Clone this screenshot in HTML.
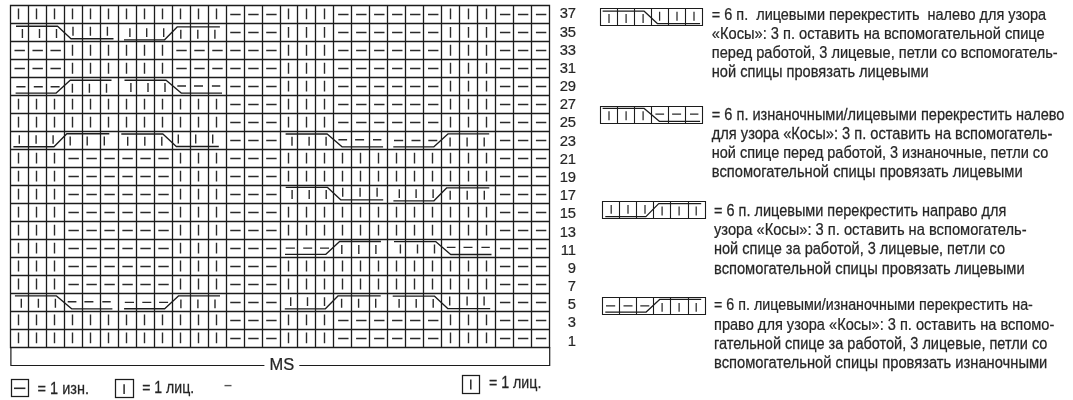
<!DOCTYPE html>
<html lang="ru"><head><meta charset="utf-8"><title>Схема узора «Косы»</title>
<style>
html,body{margin:0;padding:0;background:#fff}
body{width:1073px;height:400px;position:relative;overflow:hidden;font-family:"Liberation Sans",sans-serif}
</style></head><body>
<svg width="1073" height="400" viewBox="0 0 1073 400" style="position:absolute;left:0;top:0;will-change:transform;font-family:'Liberation Sans',sans-serif">
<path d="M10.5 5.5V347.5M28.5 5.5V347.5M46.5 5.5V347.5M64.5 5.5V347.5M82.5 5.5V347.5M100.5 5.5V347.5M118.5 5.5V347.5M136.5 5.5V347.5M154.5 5.5V347.5M172.5 5.5V347.5M190.5 5.5V347.5M208.5 5.5V347.5M226.5 5.5V347.5M244.5 5.5V347.5M262.5 5.5V347.5M280.5 5.5V347.5M297.5 5.5V347.5M315.5 5.5V347.5M333.5 5.5V347.5M351.5 5.5V347.5M369.5 5.5V347.5M387.5 5.5V347.5M405.5 5.5V347.5M423.5 5.5V347.5M441.5 5.5V347.5M459.5 5.5V347.5M477.5 5.5V347.5M495.5 5.5V347.5M513.5 5.5V347.5M531.5 5.5V347.5M549.5 5.5V347.5M10.5 5.5H549.5M10.5 23.5H549.5M10.5 41.5H549.5M10.5 59.5H549.5M10.5 77.5H549.5M10.5 95.5H549.5M10.5 113.5H549.5M10.5 131.5H549.5M10.5 149.5H549.5M10.5 167.5H549.5M10.5 185.5H549.5M10.5 203.5H549.5M10.5 221.5H549.5M10.5 239.5H549.5M10.5 257.5H549.5M10.5 275.5H549.5M10.5 293.5H549.5M10.5 311.5H549.5M10.5 329.5H549.5M10.5 347.5H549.5" fill="none" stroke="#1c1c1c" stroke-width="1.3" stroke-linecap="square"/>
<path d="M18.5 8.4V19.2M36.5 8.4V19.2M54.5 8.4V19.2M72.5 8.4V19.2M90.5 8.4V19.2M108.5 8.4V19.2M126.5 8.4V19.2M144.5 8.4V19.2M162.5 8.4V19.2M180.5 8.4V19.2M198.5 8.4V19.2M216.5 8.4V19.2M230.25 14.5H240.65M248.23 14.5H258.63M266.21 14.5H276.61M288.5 8.4V19.2M306.5 8.4V19.2M324.5 8.4V19.2M338.13 14.5H348.53M356.11 14.5H366.51M374.09 14.5H384.49M392.07 14.5H402.47M410.05 14.5H420.45M428.03 14.5H438.43M450.5 8.4V19.2M468.5 8.4V19.2M486.5 8.4V19.2M499.95 14.5H510.35M517.93 14.5H528.33M535.91 14.5H546.31M22.4 29V37.9M39.5 29V37.9M56.5 29V37.9M73 26.7V35.7M90.4 26.7V35.7M107.4 26.7V35.7M129.9 28.3V36.9M146.7 28.3V36.9M163.7 28.3V36.9M180.8 29.7V38.7M197.8 29.7V38.7M214.9 29.7V38.7M230.25 32.5H240.65M248.23 32.5H258.63M266.21 32.5H276.61M288.5 26.88V37.68M306.5 26.88V37.68M324.5 26.88V37.68M338.13 32.5H348.53M356.11 32.5H366.51M374.09 32.5H384.49M392.07 32.5H402.47M410.05 32.5H420.45M428.03 32.5H438.43M450.5 26.88V37.68M468.5 26.88V37.68M486.5 26.88V37.68M499.95 32.5H510.35M517.93 32.5H528.33M535.91 32.5H546.31M14.49 50.5H24.89M32.47 50.5H42.87M50.45 50.5H60.85M72.5 44.86V55.66M90.5 44.86V55.66M108.5 44.86V55.66M126.5 44.86V55.66M144.5 44.86V55.66M162.5 44.86V55.66M176.31 50.5H186.71M194.29 50.5H204.69M212.27 50.5H222.67M230.25 50.5H240.65M248.23 50.5H258.63M266.21 50.5H276.61M288.5 44.86V55.66M306.5 44.86V55.66M324.5 44.86V55.66M338.13 50.5H348.53M356.11 50.5H366.51M374.09 50.5H384.49M392.07 50.5H402.47M410.05 50.5H420.45M428.03 50.5H438.43M450.5 44.86V55.66M468.5 44.86V55.66M486.5 44.86V55.66M499.95 50.5H510.35M517.93 50.5H528.33M535.91 50.5H546.31M14.49 68.5H24.89M32.47 68.5H42.87M50.45 68.5H60.85M72.5 62.84V73.64M90.5 62.84V73.64M108.5 62.84V73.64M126.5 62.84V73.64M144.5 62.84V73.64M162.5 62.84V73.64M176.31 68.5H186.71M194.29 68.5H204.69M212.27 68.5H222.67M230.25 68.5H240.65M248.23 68.5H258.63M266.21 68.5H276.61M288.5 62.84V73.64M306.5 62.84V73.64M324.5 62.84V73.64M338.13 68.5H348.53M356.11 68.5H366.51M374.09 68.5H384.49M392.07 68.5H402.47M410.05 68.5H420.45M428.03 68.5H438.43M450.5 62.84V73.64M468.5 62.84V73.64M486.5 62.84V73.64M499.95 68.5H510.35M517.93 68.5H528.33M535.91 68.5H546.31M16.3 86.8H25.5M33.8 86.8H42.8M50.6 86.8H59.6M72.4 83.8V92.7M89.4 83.8V92.7M106.5 83.8V92.7M130.9 83V92M148 83V92M165 83V92M177.3 86H186M194 86H203M211.9 86H220.3M230.25 86.5H240.65M248.23 86.5H258.63M266.21 86.5H276.61M288.5 80.82V91.62M306.5 80.82V91.62M324.5 80.82V91.62M338.13 86.5H348.53M356.11 86.5H366.51M374.09 86.5H384.49M392.07 86.5H402.47M410.05 86.5H420.45M428.03 86.5H438.43M450.5 80.82V91.62M468.5 80.82V91.62M486.5 80.82V91.62M499.95 86.5H510.35M517.93 86.5H528.33M535.91 86.5H546.31M18.5 98.8V109.6M36.5 98.8V109.6M54.5 98.8V109.6M72.5 98.8V109.6M90.5 98.8V109.6M108.5 98.8V109.6M126.5 98.8V109.6M144.5 98.8V109.6M162.5 98.8V109.6M180.5 98.8V109.6M198.5 98.8V109.6M216.5 98.8V109.6M230.25 104.5H240.65M248.23 104.5H258.63M266.21 104.5H276.61M288.5 98.8V109.6M306.5 98.8V109.6M324.5 98.8V109.6M338.13 104.5H348.53M356.11 104.5H366.51M374.09 104.5H384.49M392.07 104.5H402.47M410.05 104.5H420.45M428.03 104.5H438.43M450.5 98.8V109.6M468.5 98.8V109.6M486.5 98.8V109.6M499.95 104.5H510.35M517.93 104.5H528.33M535.91 104.5H546.31M18.5 116.78V127.58M36.5 116.78V127.58M54.5 116.78V127.58M72.5 116.78V127.58M90.5 116.78V127.58M108.5 116.78V127.58M126.5 116.78V127.58M144.5 116.78V127.58M162.5 116.78V127.58M180.5 116.78V127.58M198.5 116.78V127.58M216.5 116.78V127.58M230.25 122.5H240.65M248.23 122.5H258.63M266.21 122.5H276.61M288.5 116.78V127.58M306.5 116.78V127.58M324.5 116.78V127.58M338.13 122.5H348.53M356.11 122.5H366.51M374.09 122.5H384.49M392.07 122.5H402.47M410.05 122.5H420.45M428.03 122.5H438.43M450.5 116.78V127.58M468.5 116.78V127.58M486.5 116.78V127.58M499.95 122.5H510.35M517.93 122.5H528.33M535.91 122.5H546.31M19.3 135.2V143.8M36.1 135.2V143.8M53.1 135.2V143.8M70.2 136.6V145.6M87.2 136.6V145.6M104.3 136.6V145.6M127.7 136.8V145.7M144.8 136.8V145.7M161.8 136.8V145.7M178.3 134.5V143.5M195.7 134.5V143.5M212.7 134.5V143.5M230.25 140.5H240.65M248.23 140.5H258.63M266.21 140.5H276.61M292 136.8V145.8M309.1 136.8V145.8M326.1 136.8V145.8M338.4 139.8H347.1M355.1 139.8H364.1M373 139.8H381.4M394 140.5H403.2M411.5 140.5H420.5M428.3 140.5H437.3M450.1 137.5V146.4M467.1 137.5V146.4M484.2 137.5V146.4M499.95 140.5H510.35M517.93 140.5H528.33M535.91 140.5H546.31M18.5 152.74V163.54M36.5 152.74V163.54M54.5 152.74V163.54M68.43 158.5H78.83M86.41 158.5H96.81M104.39 158.5H114.79M122.37 158.5H132.77M140.35 158.5H150.75M158.33 158.5H168.73M180.5 152.74V163.54M198.5 152.74V163.54M216.5 152.74V163.54M230.25 158.5H240.65M248.23 158.5H258.63M266.21 158.5H276.61M288.5 152.74V163.54M306.5 152.74V163.54M324.5 152.74V163.54M342.5 152.74V163.54M360.5 152.74V163.54M378.5 152.74V163.54M396.5 152.74V163.54M414.5 152.74V163.54M432.5 152.74V163.54M450.5 152.74V163.54M468.5 152.74V163.54M486.5 152.74V163.54M499.95 158.5H510.35M517.93 158.5H528.33M535.91 158.5H546.31M18.5 170.72V181.52M36.5 170.72V181.52M54.5 170.72V181.52M68.43 176.5H78.83M86.41 176.5H96.81M104.39 176.5H114.79M122.37 176.5H132.77M140.35 176.5H150.75M158.33 176.5H168.73M180.5 170.72V181.52M198.5 170.72V181.52M216.5 170.72V181.52M230.25 176.5H240.65M248.23 176.5H258.63M266.21 176.5H276.61M288.5 170.72V181.52M306.5 170.72V181.52M324.5 170.72V181.52M342.5 170.72V181.52M360.5 170.72V181.52M378.5 170.72V181.52M396.5 170.72V181.52M414.5 170.72V181.52M432.5 170.72V181.52M450.5 170.72V181.52M468.5 170.72V181.52M486.5 170.72V181.52M499.95 176.5H510.35M517.93 176.5H528.33M535.91 176.5H546.31M18.5 188.7V199.5M36.5 188.7V199.5M54.5 188.7V199.5M68.43 194.5H78.83M86.41 194.5H96.81M104.39 194.5H114.79M122.37 194.5H132.77M140.35 194.5H150.75M158.33 194.5H168.73M180.5 188.7V199.5M198.5 188.7V199.5M216.5 188.7V199.5M230.25 194.5H240.65M248.23 194.5H258.63M266.21 194.5H276.61M292.1 190.1V199M309.2 190.1V199M326.2 190.1V199M342.7 187.8V196.8M360.1 187.8V196.8M377.1 187.8V196.8M399.3 189.3V197.9M416.1 189.3V197.9M433.1 189.3V197.9M450.2 190.7V199.7M467.2 190.7V199.7M484.3 190.7V199.7M499.95 194.5H510.35M517.93 194.5H528.33M535.91 194.5H546.31M18.5 206.68V217.48M36.5 206.68V217.48M54.5 206.68V217.48M68.43 212.5H78.83M86.41 212.5H96.81M104.39 212.5H114.79M122.37 212.5H132.77M140.35 212.5H150.75M158.33 212.5H168.73M180.5 206.68V217.48M198.5 206.68V217.48M216.5 206.68V217.48M230.25 212.5H240.65M248.23 212.5H258.63M266.21 212.5H276.61M288.5 206.68V217.48M306.5 206.68V217.48M324.5 206.68V217.48M342.5 206.68V217.48M360.5 206.68V217.48M378.5 206.68V217.48M396.5 206.68V217.48M414.5 206.68V217.48M432.5 206.68V217.48M450.5 206.68V217.48M468.5 206.68V217.48M486.5 206.68V217.48M499.95 212.5H510.35M517.93 212.5H528.33M535.91 212.5H546.31M18.5 224.66V235.46M36.5 224.66V235.46M54.5 224.66V235.46M68.43 230.5H78.83M86.41 230.5H96.81M104.39 230.5H114.79M122.37 230.5H132.77M140.35 230.5H150.75M158.33 230.5H168.73M180.5 224.66V235.46M198.5 224.66V235.46M216.5 224.66V235.46M230.25 230.5H240.65M248.23 230.5H258.63M266.21 230.5H276.61M288.5 224.66V235.46M306.5 224.66V235.46M324.5 224.66V235.46M342.5 224.66V235.46M360.5 224.66V235.46M378.5 224.66V235.46M396.5 224.66V235.46M414.5 224.66V235.46M432.5 224.66V235.46M450.5 224.66V235.46M468.5 224.66V235.46M486.5 224.66V235.46M499.95 230.5H510.35M517.93 230.5H528.33M535.91 230.5H546.31M18.5 242.64V253.44M36.5 242.64V253.44M54.5 242.64V253.44M68.43 248.5H78.83M86.41 248.5H96.81M104.39 248.5H114.79M122.37 248.5H132.77M140.35 248.5H150.75M158.33 248.5H168.73M180.5 242.64V253.44M198.5 242.64V253.44M216.5 242.64V253.44M230.25 248.5H240.65M248.23 248.5H258.63M266.21 248.5H276.61M285.7 248.1H294.9M303.2 248.1H312.2M320 248.1H329M341.8 245.1V254M358.8 245.1V254M375.9 245.1V254M400.4 244.4V253.4M417.5 244.4V253.4M434.5 244.4V253.4M446.8 247.4H455.5M463.5 247.4H472.5M481.4 247.4H489.8M499.95 248.5H510.35M517.93 248.5H528.33M535.91 248.5H546.31M18.5 260.62V271.42M36.5 260.62V271.42M54.5 260.62V271.42M68.43 266.5H78.83M86.41 266.5H96.81M104.39 266.5H114.79M122.37 266.5H132.77M140.35 266.5H150.75M158.33 266.5H168.73M180.5 260.62V271.42M198.5 260.62V271.42M216.5 260.62V271.42M230.25 266.5H240.65M248.23 266.5H258.63M266.21 266.5H276.61M288.5 260.62V271.42M306.5 260.62V271.42M324.5 260.62V271.42M342.5 260.62V271.42M360.5 260.62V271.42M378.5 260.62V271.42M396.5 260.62V271.42M414.5 260.62V271.42M432.5 260.62V271.42M450.5 260.62V271.42M468.5 260.62V271.42M486.5 260.62V271.42M499.95 266.5H510.35M517.93 266.5H528.33M535.91 266.5H546.31M18.5 278.6V289.4M36.5 278.6V289.4M54.5 278.6V289.4M68.43 284.5H78.83M86.41 284.5H96.81M104.39 284.5H114.79M122.37 284.5H132.77M140.35 284.5H150.75M158.33 284.5H168.73M180.5 278.6V289.4M198.5 278.6V289.4M216.5 278.6V289.4M230.25 284.5H240.65M248.23 284.5H258.63M266.21 284.5H276.61M288.5 278.6V289.4M306.5 278.6V289.4M324.5 278.6V289.4M342.5 278.6V289.4M360.5 278.6V289.4M378.5 278.6V289.4M396.5 278.6V289.4M414.5 278.6V289.4M432.5 278.6V289.4M450.5 278.6V289.4M468.5 278.6V289.4M486.5 278.6V289.4M499.95 284.5H510.35M517.93 284.5H528.33M535.91 284.5H546.31M21.3 298.7V307.7M38.4 298.7V307.7M55.4 298.7V307.7M67.7 301.7H76.4M84.4 301.7H93.4M102.3 301.7H110.7M124.8 302.4H134M142.3 302.4H151.3M159.1 302.4H168.1M180.9 299.4V308.3M197.9 299.4V308.3M215 299.4V308.3M230.25 302.5H240.65M248.23 302.5H258.63M266.21 302.5H276.61M290.7 297.3V305.9M307.5 297.3V305.9M324.5 297.3V305.9M341.6 298.7V307.7M358.6 298.7V307.7M375.7 298.7V307.7M399.1 298.9V307.8M416.2 298.9V307.8M433.2 298.9V307.8M449.7 296.6V305.6M467.1 296.6V305.6M484.1 296.6V305.6M499.95 302.5H510.35M517.93 302.5H528.33M535.91 302.5H546.31M18.5 314.56V325.36M36.5 314.56V325.36M54.5 314.56V325.36M72.5 314.56V325.36M90.5 314.56V325.36M108.5 314.56V325.36M126.5 314.56V325.36M144.5 314.56V325.36M162.5 314.56V325.36M180.5 314.56V325.36M198.5 314.56V325.36M216.5 314.56V325.36M230.25 320.5H240.65M248.23 320.5H258.63M266.21 320.5H276.61M288.5 314.56V325.36M306.5 314.56V325.36M324.5 314.56V325.36M338.13 320.5H348.53M356.11 320.5H366.51M374.09 320.5H384.49M392.07 320.5H402.47M410.05 320.5H420.45M428.03 320.5H438.43M450.5 314.56V325.36M468.5 314.56V325.36M486.5 314.56V325.36M499.95 320.5H510.35M517.93 320.5H528.33M535.91 320.5H546.31M18.5 332.54V343.34M36.5 332.54V343.34M54.5 332.54V343.34M72.5 332.54V343.34M90.5 332.54V343.34M108.5 332.54V343.34M126.5 332.54V343.34M144.5 332.54V343.34M162.5 332.54V343.34M180.5 332.54V343.34M198.5 332.54V343.34M216.5 332.54V343.34M230.25 338.5H240.65M248.23 338.5H258.63M266.21 338.5H276.61M288.5 332.54V343.34M306.5 332.54V343.34M324.5 332.54V343.34M338.13 338.5H348.53M356.11 338.5H366.51M374.09 338.5H384.49M392.07 338.5H402.47M410.05 338.5H420.45M428.03 338.5H438.43M450.5 332.54V343.34M468.5 332.54V343.34M486.5 332.54V343.34M499.95 338.5H510.35M517.93 338.5H528.33M535.91 338.5H546.31" fill="none" stroke="#2a2a2a" stroke-width="1.4"/>
<path d="M16 26.2 L57.6 26.2 L71 38.7 L113.5 38.7M124 39.8 L164.6 39.8 L177.4 26.8 L219.9 26.8M15.6 93.1 L56.2 93.1 L70.2 80.2 L111.5 80.2M124.5 80.2 L166.1 80.2 L181.2 93.1 L222 93.1M13.4 146.7 L54 146.7 L66.8 133.7 L109.3 133.7M121.3 134 L162.9 134 L176.3 146.5 L218.8 146.5M285.6 134 L327.2 134 L342.3 146.9 L383.1 146.9M393.3 146.8 L433.9 146.8 L447.9 133.9 L489.2 133.9M285.7 187.3 L327.3 187.3 L340.7 199.8 L383.2 199.8M393.4 200.8 L434 200.8 L446.8 187.8 L489.3 187.8M285 254.4 L325.6 254.4 L339.6 241.5 L380.9 241.5M394 241.6 L435.6 241.6 L450.7 254.5 L491.5 254.5M14.9 295.9 L56.5 295.9 L71.6 308.8 L112.4 308.8M124.1 308.7 L164.7 308.7 L178.7 295.8 L220 295.8M284.8 308.8 L325.4 308.8 L338.2 295.8 L380.7 295.8M392.7 296.1 L434.3 296.1 L447.7 308.6 L490.2 308.6" fill="none" stroke="#1c1c1c" stroke-width="1.35" stroke-linejoin="round"/>
<path d="M10.9 347.02V365.5H264.4M299.3 365.5H549.7V347.02" fill="none" stroke="#1c1c1c" stroke-width="1.2"/>
<text transform="translate(269.5 369.9) scale(0.9686 1)" font-size="17" fill="#262626" stroke="#262626" stroke-width="0.25" xml:space="preserve">MS</text>
<text x="576.1" y="18.4" font-size="14.8" text-anchor="end" fill="#262626" stroke="#262626" stroke-width="0.2">37</text>
<text x="576.1" y="36.58" font-size="14.8" text-anchor="end" fill="#262626" stroke="#262626" stroke-width="0.2">35</text>
<text x="576.1" y="54.76" font-size="14.8" text-anchor="end" fill="#262626" stroke="#262626" stroke-width="0.2">33</text>
<text x="576.1" y="72.94" font-size="14.8" text-anchor="end" fill="#262626" stroke="#262626" stroke-width="0.2">31</text>
<text x="576.1" y="91.12" font-size="14.8" text-anchor="end" fill="#262626" stroke="#262626" stroke-width="0.2">29</text>
<text x="576.1" y="109.3" font-size="14.8" text-anchor="end" fill="#262626" stroke="#262626" stroke-width="0.2">27</text>
<text x="576.1" y="127.48" font-size="14.8" text-anchor="end" fill="#262626" stroke="#262626" stroke-width="0.2">25</text>
<text x="576.1" y="145.66" font-size="14.8" text-anchor="end" fill="#262626" stroke="#262626" stroke-width="0.2">23</text>
<text x="576.1" y="163.84" font-size="14.8" text-anchor="end" fill="#262626" stroke="#262626" stroke-width="0.2">21</text>
<text x="576.1" y="182.02" font-size="14.8" text-anchor="end" fill="#262626" stroke="#262626" stroke-width="0.2">19</text>
<text x="576.1" y="200.2" font-size="14.8" text-anchor="end" fill="#262626" stroke="#262626" stroke-width="0.2">17</text>
<text x="576.1" y="218.38" font-size="14.8" text-anchor="end" fill="#262626" stroke="#262626" stroke-width="0.2">15</text>
<text x="576.1" y="236.56" font-size="14.8" text-anchor="end" fill="#262626" stroke="#262626" stroke-width="0.2">13</text>
<text x="576.1" y="254.74" font-size="14.8" text-anchor="end" fill="#262626" stroke="#262626" stroke-width="0.2">11</text>
<text x="576.1" y="272.92" font-size="14.8" text-anchor="end" fill="#262626" stroke="#262626" stroke-width="0.2">9</text>
<text x="576.1" y="291.1" font-size="14.8" text-anchor="end" fill="#262626" stroke="#262626" stroke-width="0.2">7</text>
<text x="576.1" y="309.28" font-size="14.8" text-anchor="end" fill="#262626" stroke="#262626" stroke-width="0.2">5</text>
<text x="576.1" y="327.46" font-size="14.8" text-anchor="end" fill="#262626" stroke="#262626" stroke-width="0.2">3</text>
<text x="576.1" y="345.64" font-size="14.8" text-anchor="end" fill="#262626" stroke="#262626" stroke-width="0.2">1</text>
<path d="M600.5 8.5H702.5V25.5H600.5ZM617.5 8.5V25.5M634.5 8.5V25.5M651.5 8.5V25.5M668.5 8.5V25.5M685.5 8.5V25.5" fill="none" stroke="#1c1c1c" stroke-width="1.1"/>
<path d="M609 14V22.9M626.1 14V22.9M643.1 14V22.9M659.6 11.7V20.7M677 11.7V20.7M694 11.7V20.7" fill="none" stroke="#2a2a2a" stroke-width="1.25"/>
<path d="M602.6 11.2 L644.2 11.2 L657.6 23.7 L700.1 23.7" fill="none" stroke="#1c1c1c" stroke-width="1.3" stroke-linejoin="round"/>
<path d="M600.5 106.5H702.5V123.5H600.5ZM617.5 106.5V123.5M634.5 106.5V123.5M651.5 106.5V123.5M668.5 106.5V123.5M685.5 106.5V123.5" fill="none" stroke="#1c1c1c" stroke-width="1.1"/>
<path d="M609 111.2V120.2M626.1 111.2V120.2M643.1 111.2V120.2M655.4 114.2H664.1M672.1 114.2H681.1M690 114.2H698.4" fill="none" stroke="#2a2a2a" stroke-width="1.25"/>
<path d="M602.6 108.4 L644.2 108.4 L659.3 121.3 L700.1 121.3" fill="none" stroke="#1c1c1c" stroke-width="1.3" stroke-linejoin="round"/>
<path d="M602.5 201.5H705.5V218.5H602.5ZM619.5 201.5V218.5M636.5 201.5V218.5M653.5 201.5V218.5M670.5 201.5V218.5M688.5 201.5V218.5" fill="none" stroke="#1c1c1c" stroke-width="1.1"/>
<path d="M611.2 205.1V213.7M628 205.1V213.7M645 205.1V213.7M662.1 206.5V215.5M679.1 206.5V215.5M696.2 206.5V215.5" fill="none" stroke="#2a2a2a" stroke-width="1.25"/>
<path d="M605.3 216.6 L645.9 216.6 L658.7 203.6 L701.2 203.6" fill="none" stroke="#1c1c1c" stroke-width="1.3" stroke-linejoin="round"/>
<path d="M602.5 297.5H705.5V314.5H602.5ZM619.5 297.5V314.5M636.5 297.5V314.5M653.5 297.5V314.5M670.5 297.5V314.5M688.5 297.5V314.5" fill="none" stroke="#1c1c1c" stroke-width="1.1"/>
<path d="M606 305.9H615.2M623.5 305.9H632.5M640.3 305.9H649.3M662.1 302.9V311.8M679.1 302.9V311.8M696.2 302.9V311.8" fill="none" stroke="#2a2a2a" stroke-width="1.25"/>
<path d="M605.3 312.2 L645.9 312.2 L659.9 299.3 L701.2 299.3" fill="none" stroke="#1c1c1c" stroke-width="1.3" stroke-linejoin="round"/>
<text transform="translate(711.8 19.8) scale(0.8668 1)" font-size="16.7" fill="#262626" stroke="#262626" stroke-width="0.25" xml:space="preserve">= 6 п.  лицевыми перекрестить  налево для узора</text>
<text transform="translate(711.8 38.9) scale(0.8780 1)" font-size="16.7" fill="#262626" stroke="#262626" stroke-width="0.25" xml:space="preserve">«Косы»: 3 п. оставить на вспомогательной спице</text>
<text transform="translate(711.8 58) scale(0.8728 1)" font-size="16.7" fill="#262626" stroke="#262626" stroke-width="0.25" xml:space="preserve">перед работой, 3 лицевые, петли со вспомогатель-</text>
<text transform="translate(711.8 77.1) scale(0.8755 1)" font-size="16.7" fill="#262626" stroke="#262626" stroke-width="0.25" xml:space="preserve">ной спицы провязать лицевыми</text>
<text transform="translate(711.8 119.5) scale(0.8735 1)" font-size="16.7" fill="#262626" stroke="#262626" stroke-width="0.25" xml:space="preserve">= 6 п. изнаночными/лицевыми перекрестить налево</text>
<text transform="translate(711.8 138.6) scale(0.8773 1)" font-size="16.7" fill="#262626" stroke="#262626" stroke-width="0.25" xml:space="preserve">для узора «Косы»: 3 п. оставить на вспомогатель-</text>
<text transform="translate(711.8 157.7) scale(0.8669 1)" font-size="16.7" fill="#262626" stroke="#262626" stroke-width="0.25" xml:space="preserve">ной спице перед работой, 3 изнаночные, петли со</text>
<text transform="translate(711.8 176.8) scale(0.8812 1)" font-size="16.7" fill="#262626" stroke="#262626" stroke-width="0.25" xml:space="preserve">вспомогательной спицы провязать лицевыми</text>
<text transform="translate(714 216) scale(0.8680 1)" font-size="16.7" fill="#262626" stroke="#262626" stroke-width="0.25" xml:space="preserve">= 6 п. лицевыми перекрестить направо для</text>
<text transform="translate(714 235.2) scale(0.8796 1)" font-size="16.7" fill="#262626" stroke="#262626" stroke-width="0.25" xml:space="preserve">узора «Косы»: 3 п. оставить на вспомогатель-</text>
<text transform="translate(714 254.4) scale(0.8713 1)" font-size="16.7" fill="#262626" stroke="#262626" stroke-width="0.25" xml:space="preserve">ной спице за работой, 3 лицевые, петли со</text>
<text transform="translate(714 273.5) scale(0.8806 1)" font-size="16.7" fill="#262626" stroke="#262626" stroke-width="0.25" xml:space="preserve">вспомогательной спицы провязать лицевыми</text>
<text transform="translate(714 310.2) scale(0.8555 1)" font-size="16.7" fill="#262626" stroke="#262626" stroke-width="0.25" xml:space="preserve">= 6 п. лицевыми/изнаночными перекрестить на-</text>
<text transform="translate(714 329.5) scale(0.8739 1)" font-size="16.7" fill="#262626" stroke="#262626" stroke-width="0.25" xml:space="preserve">право для узора «Косы»: 3 п. оставить на вспомо-</text>
<text transform="translate(714 348.7) scale(0.8699 1)" font-size="16.7" fill="#262626" stroke="#262626" stroke-width="0.25" xml:space="preserve">гательной спице за работой, 3 лицевые, петли со</text>
<text transform="translate(714 367.9) scale(0.8823 1)" font-size="16.7" fill="#262626" stroke="#262626" stroke-width="0.25" xml:space="preserve">вспомогательной спицы провязать изнаночными</text>
<rect x="11.5" y="379.5" width="17" height="17" fill="none" stroke="#1c1c1c" stroke-width="1.25"/>
<path d="M14 388.3H25.4" stroke="#2a2a2a" stroke-width="1.6"/>
<rect x="115.5" y="379.5" width="18" height="18" fill="none" stroke="#1c1c1c" stroke-width="1.25"/>
<path d="M124.1 384.3V394" stroke="#2a2a2a" stroke-width="1.5"/>
<rect x="462.5" y="375.5" width="17" height="18" fill="none" stroke="#1c1c1c" stroke-width="1.25"/>
<path d="M470.8 379.6V389.5" stroke="#2a2a2a" stroke-width="1.5"/>
<text transform="translate(37.6 393.8) scale(0.9067 1)" font-size="16" fill="#262626" stroke="#262626" stroke-width="0.25" xml:space="preserve">= 1 изн.</text>
<text transform="translate(142.2 392.9) scale(0.8812 1)" font-size="16" fill="#262626" stroke="#262626" stroke-width="0.25" xml:space="preserve">= 1 лиц.</text>
<text transform="translate(488.9 388.4) scale(0.8897 1)" font-size="16" fill="#262626" stroke="#262626" stroke-width="0.25" xml:space="preserve">= 1 лиц.</text>
<path d="M224.5 385.6H231.5" stroke="#555" stroke-width="1.4"/>
</svg>
</body></html>
